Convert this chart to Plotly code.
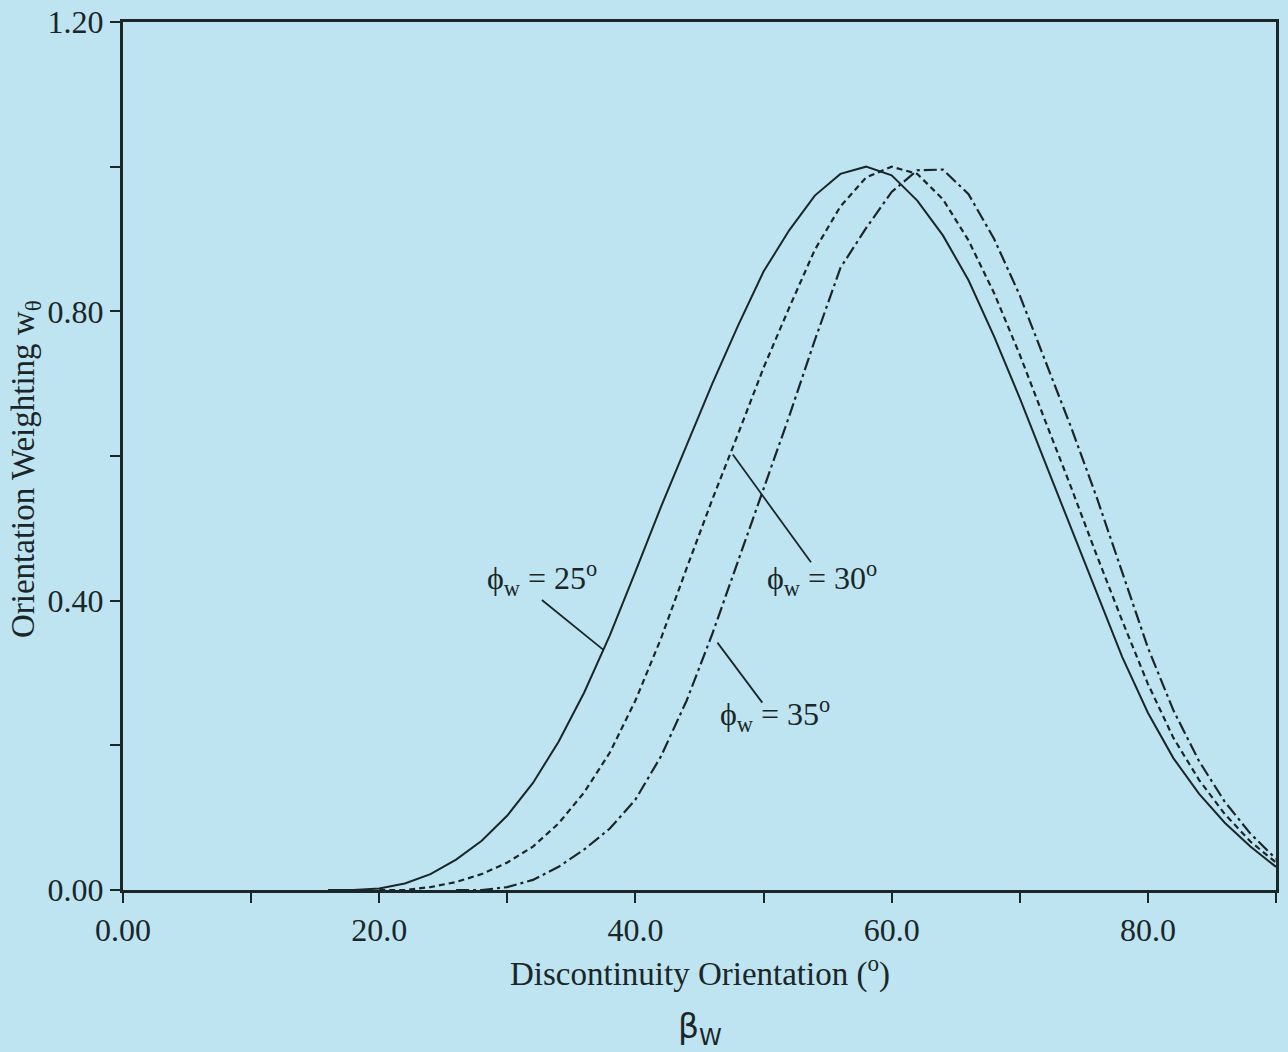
import plotly.graph_objects as go

# Discontinuity orientation beta_w (degrees) and orientation weighting w_theta
beta_25 = [16, 18, 20, 22, 24, 26, 28, 30, 32, 34, 36, 38, 40, 42, 44, 46, 48, 50, 52, 54,
           56, 58, 60, 62, 64, 66, 68, 70, 72, 74, 76, 78, 80, 82, 84, 86, 88, 90]
w_25 = [0.0, 0.0, 0.002, 0.009, 0.022, 0.042, 0.068, 0.103, 0.148, 0.205, 0.273, 0.352,
        0.440, 0.530, 0.615, 0.700, 0.780, 0.855, 0.912, 0.960, 0.990, 1.000, 0.988,
        0.953, 0.905, 0.843, 0.765, 0.680, 0.590, 0.500, 0.410, 0.322, 0.245, 0.182,
        0.133, 0.093, 0.060, 0.032]

beta_30 = [20, 22, 24, 26, 28, 30, 32, 34, 36, 38, 40, 42, 44, 46, 48, 50, 52, 54, 56, 58,
           60, 62, 64, 66, 68, 70, 72, 74, 76, 78, 80, 82, 84, 86, 88, 90]
w_30 = [0.0, 0.0, 0.004, 0.011, 0.022, 0.038, 0.060, 0.092, 0.135, 0.190, 0.262, 0.348,
        0.445, 0.540, 0.630, 0.722, 0.805, 0.885, 0.945, 0.985, 1.000, 0.990, 0.955,
        0.898, 0.825, 0.740, 0.648, 0.557, 0.463, 0.372, 0.285, 0.210, 0.152, 0.105,
        0.067, 0.038]

beta_35 = [26, 28, 30, 32, 34, 36, 38, 40, 42, 44, 46, 48, 50, 52, 54, 56, 58, 60, 62, 64,
           66, 68, 70, 72, 74, 76, 78, 80, 82, 84, 86, 88, 90]
w_35 = [0.0, 0.0, 0.004, 0.014, 0.032, 0.056, 0.085, 0.125, 0.185, 0.262, 0.354, 0.455,
        0.553, 0.655, 0.760, 0.860, 0.915, 0.965, 0.995, 0.996, 0.962, 0.900, 0.822,
        0.732, 0.640, 0.543, 0.440, 0.335, 0.248, 0.178, 0.122, 0.078, 0.043]

x_ticks = [0, 10, 20, 30, 40, 50, 60, 70, 80, 90]
x_labels = ["0.00", "", "20.0", "", "40.0", "", "60.0", "", "80.0", ""]
y_ticks = [0.0, 0.2, 0.4, 0.6, 0.8, 1.0, 1.2]
y_labels = ["0.00", "", "0.40", "", "0.80", "", "1.20"]

INK = "#1b2628"
BG = "#bde4f0"
SERIF = "Liberation Serif, Times New Roman, serif"

fig = go.Figure()
fig.add_trace(go.Scatter(x=beta_25, y=w_25, mode="lines",
                         line=dict(color=INK, width=2)))
fig.add_trace(go.Scatter(x=beta_30, y=w_30, mode="lines",
                         line=dict(color=INK, width=2.2, dash="6px,4px")))
fig.add_trace(go.Scatter(x=beta_35, y=w_35, mode="lines",
                         line=dict(color=INK, width=2.2, dash="13px,4px,3px,4px")))

axis_common = dict(showgrid=False, zeroline=False, showline=True, linecolor=INK, linewidth=3,
                   mirror=True, ticks="outside", tickcolor=INK, tickwidth=2, ticklen=10,
                   automargin=False,
                   tickfont=dict(family=SERIF, size=32, color=INK))

fig.update_xaxes(range=[0, 90], tickmode="array", tickvals=x_ticks, ticktext=x_labels, **axis_common)
fig.update_yaxes(range=[0, 1.2], tickmode="array", tickvals=y_ticks, ticktext=y_labels, **axis_common)

# Leader lines from the curve labels to their curves
leaders = [
    (32.7, 0.401, 37.5, 0.332),
    (53.7, 0.453, 47.6, 0.602),
    (49.9, 0.259, 46.4, 0.342),
]
for x0, y0, x1, y1 in leaders:
    fig.add_shape(type="line", x0=x0, y0=y0, x1=x1, y1=y1, xref="x", yref="y",
                  line=dict(color=INK, width=1.8))

label_font = dict(family=SERIF, size=32, color=INK)
fig.add_annotation(x=32.7, y=0.43, text="ϕ<sub>w</sub> = 25<sup>o</sup>", showarrow=False,
                   xref="x", yref="y", xanchor="center", yanchor="middle", font=label_font)
fig.add_annotation(x=54.6, y=0.43, text="ϕ<sub>w</sub> = 30<sup>o</sup>", showarrow=False,
                   xref="x", yref="y", xanchor="center", yanchor="middle", font=label_font)
fig.add_annotation(x=50.9, y=0.243, text="ϕ<sub>w</sub> = 35<sup>o</sup>", showarrow=False,
                   xref="x", yref="y", xanchor="center", yanchor="middle", font=label_font)

# Axis titles
fig.add_annotation(x=0.5, y=-0.094, xref="paper", yref="paper", showarrow=False,
                   xanchor="center", yanchor="middle",
                   text="Discontinuity Orientation (<sup>o</sup>)",
                   font=dict(family=SERIF, size=33, color=INK))
fig.add_annotation(x=0.5, y=-0.16, xref="paper", yref="paper", showarrow=False,
                   xanchor="center", yanchor="middle",
                   text="β<sub>W</sub>",
                   font=dict(family="DejaVu Sans, sans-serif", size=33, color=INK))
fig.add_annotation(x=-0.085, y=0.485, xref="paper", yref="paper", showarrow=False,
                   xanchor="center", yanchor="middle",
                   textangle=-90, text="Orientation Weighting w<sub>θ</sub>",
                   font=dict(family=SERIF, size=33, color=INK))

fig.update_layout(width=1288, height=1052, showlegend=False,
                  margin=dict(l=123, r=12, t=22, b=162),
                  paper_bgcolor=BG, plot_bgcolor=BG)

fig.write_html("out.html")
